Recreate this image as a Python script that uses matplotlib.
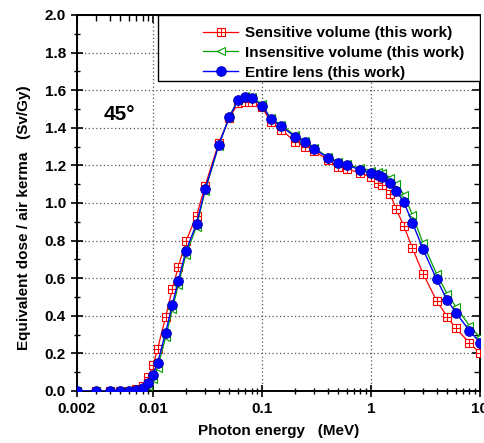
import matplotlib
matplotlib.use("Agg")
import matplotlib.pyplot as plt
from matplotlib.patches import Rectangle
from matplotlib.ticker import LogLocator, NullFormatter, MultipleLocator, FixedLocator, FixedFormatter
from matplotlib.lines import Line2D

plt.rcParams['font.family'] = ['Liberation Sans', 'DejaVu Sans']
plt.rcParams['font.weight'] = 'bold'

energy = [0.002, 0.003, 0.004, 0.005, 0.006, 0.007, 0.008, 0.009, 0.01, 0.011,
          0.013, 0.015, 0.017, 0.02, 0.025, 0.03, 0.04, 0.05, 0.06, 0.07,
          0.08, 0.1, 0.12, 0.15, 0.2, 0.25, 0.3, 0.4, 0.5, 0.6,
          0.8, 1.0, 1.15, 1.25, 1.5, 1.7, 2.0, 2.4, 3.0, 4.0,
          5.0, 6.0, 8.0, 10.0]

sensitive = [0.0, 0.0, 0.0, 0.0, 0.002, 0.01, 0.028, 0.076, 0.138, 0.226,
             0.392, 0.543, 0.66, 0.797, 0.932, 1.092, 1.32, 1.45, 1.53, 1.535,
             1.535, 1.51, 1.43, 1.39, 1.326, 1.30, 1.278, 1.229, 1.19, 1.18,
             1.16, 1.137, 1.108, 1.096, 1.046, 0.968, 0.878, 0.759, 0.624, 0.48,
             0.395, 0.333, 0.257, 0.2]

insensitive = [0.0, 0.0, 0.0, 0.0, 0.0, 0.003, 0.01, 0.028, 0.065, 0.125,
               0.285, 0.435, 0.565, 0.725, 0.875, 1.065, 1.305, 1.46, 1.55, 1.57,
               1.565, 1.525, 1.45, 1.415, 1.36, 1.33, 1.295, 1.245, 1.22, 1.205,
               1.185, 1.172, 1.165, 1.16, 1.135, 1.1, 1.045, 0.936, 0.786, 0.622,
               0.516, 0.449, 0.347, 0.286]

entire = [0.0, 0.0, 0.0, 0.0, 0.001, 0.005, 0.018, 0.041, 0.087, 0.15,
          0.31, 0.46, 0.587, 0.745, 0.89, 1.073, 1.31, 1.456, 1.546, 1.562,
          1.557, 1.518, 1.447, 1.408, 1.353, 1.323, 1.289, 1.241, 1.214, 1.2,
          1.177, 1.161, 1.149, 1.14, 1.108, 1.065, 1.004, 0.895, 0.754, 0.594,
          0.484, 0.417, 0.321, 0.257]

labels = ["Sensitive volume (this work)",
          "Insensitive volume (this work)",
          "Entire lens (this work)"]
xtick_vals = [0.002, 0.01, 0.1, 1, 10]
xtick_labels = ["0.002", "0.01", "0.1", "1", "10"]

RED = '#ff0000'
GREEN = '#00a000'
BLUE = '#0000ff'

fig = plt.figure(figsize=(4.85, 4.43), dpi=100)
ax = fig.add_axes([77/485, 52/443, 403/485, 376/443])

ax.plot(energy, sensitive, color=RED, lw=0.9, marker='s', ms=5.8,
        mfc='white', mec=RED, mew=0.8, zorder=4)
ax.plot(energy, sensitive, color=RED, lw=0, marker='+', ms=5.8,
        mec=RED, mew=0.8, zorder=4)
ax.plot(energy, insensitive, color=GREEN, lw=0.9, marker='<', ms=5.5,
        mfc='white', mec=GREEN, mew=0.8, zorder=5)
ax.plot(energy, entire, color=BLUE, lw=1.0, marker='o', ms=7.0,
        mfc=BLUE, mec='#0000aa', mew=0.6, zorder=6)

ax.set_xscale('log')
ax.set_xlim(0.002, 10)
ax.set_ylim(0, 2.0)

ax.xaxis.set_major_locator(FixedLocator(xtick_vals))
ax.xaxis.set_major_formatter(FixedFormatter(xtick_labels))
ax.xaxis.set_minor_locator(LogLocator(base=10, subs=range(2, 10)))
ax.xaxis.set_minor_formatter(NullFormatter())
ax.yaxis.set_major_locator(MultipleLocator(0.2))
ax.yaxis.set_minor_locator(MultipleLocator(0.1))
ax.yaxis.set_major_formatter(plt.FuncFormatter(lambda v, p: f"{v:.1f}"))

ax.grid(True, which='major', linestyle=(0, (1, 2)), color='#555555', lw=0.9, zorder=1)
ax.set_axisbelow(True)

ax.tick_params(which='major', direction='inout', length=8, width=1.2,
               labelsize=11, pad=4, colors='black')
ax.tick_params(which='minor', direction='inout', length=5, width=1.0)
for s in ax.spines.values():
    s.set_linewidth(1.4)

secx = ax.secondary_xaxis('top')
secx.xaxis.set_major_locator(FixedLocator(xtick_vals))
secx.xaxis.set_minor_locator(LogLocator(base=10, subs=range(2, 10)))
secx.xaxis.set_major_formatter(NullFormatter())
secx.xaxis.set_minor_formatter(NullFormatter())
secx.tick_params(which='major', direction='in', length=6, width=1.2)
secx.tick_params(which='minor', direction='in', length=4, width=1.0)
secx.spines['top'].set_linewidth(1.4)

secy = ax.secondary_yaxis('right')
secy.yaxis.set_major_locator(MultipleLocator(0.2))
secy.yaxis.set_minor_locator(MultipleLocator(0.1))
secy.yaxis.set_major_formatter(NullFormatter())
secy.tick_params(which='major', direction='in', length=6, width=1.2)
secy.tick_params(which='minor', direction='in', length=4, width=1.0)
secy.spines['right'].set_linewidth(1.4)

ax.set_xlabel("Photon energy   (MeV)", fontsize=11, fontweight='bold', labelpad=6)
ax.set_ylabel("Equivalent dose / air kerma   (Sv/Gy)", fontsize=11, fontweight='bold')
ax.yaxis.set_label_coords(-0.114, 0.46)

ax.text(0.065, 0.735, "45°", transform=ax.transAxes, fontsize=15,
        fontweight='bold', ha='left', va='center', zorder=7)

rect = Rectangle((0.2, 0.8245), 0.8, 0.1755, transform=ax.transAxes,
                 facecolor='white', edgecolor='black', lw=1.0, zorder=8)
ax.add_patch(rect)

h_red = (Line2D([], [], color=RED, lw=0.9, marker='s', ms=5.8, mfc='white', mec=RED, mew=0.8),
         Line2D([], [], color=RED, lw=0, marker='+', ms=5.8, mec=RED, mew=0.8))
h_green = Line2D([], [], color=GREEN, lw=0.9, marker='<', ms=5.5, mfc='white', mec=GREEN, mew=0.8)
h_blue = Line2D([], [], color=BLUE, lw=1.0, marker='o', ms=7.0, mfc=BLUE, mec='#0000aa', mew=0.6)

leg = ax.legend([h_red, h_green, h_blue], labels, loc='upper left',
                bbox_to_anchor=((203 - 77) / 403, (391 - 26) / 376),
                frameon=False, borderpad=0, borderaxespad=0,
                handlelength=2.3, handletextpad=0.45, labelspacing=0.38,
                prop={'size': 11, 'weight': 'bold'})
leg.set_zorder(9)

fig.savefig("out.png", dpi=100)
